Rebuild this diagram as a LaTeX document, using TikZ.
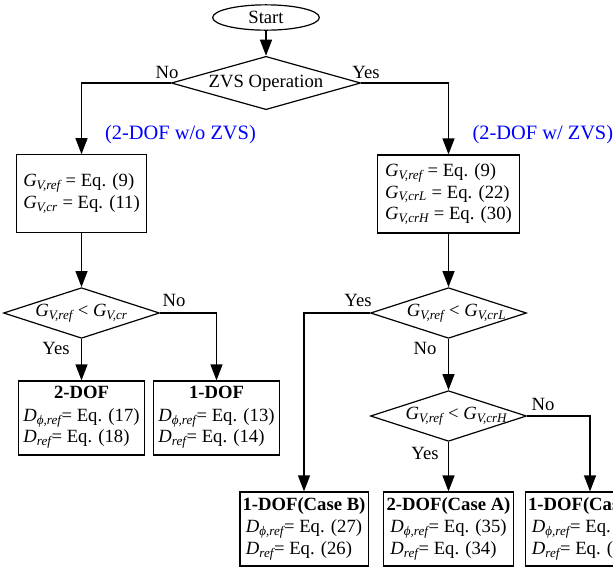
\documentclass[tikz,border=0pt]{standalone}
\usepackage{fontspec}
\setmainfont{Liberation Serif}
\usetikzlibrary{shapes.geometric,arrows.meta}
\newcommand{\sbx}[1]{\textsubscript{\itshape #1}}
\newcommand{\Gv}[1]{\textit{G}\sbx{V,#1}}
\newcommand{\Dv}[1]{\textit{D}\sbx{#1}}
\newcommand{\inz}[1]{\makebox[0pt]{#1}}

\begin{document}
\begin{tikzpicture}[x=0.75pt,y=-0.75pt,line width=0.9pt,font=\fontsize{14}{16}\selectfont,
    box/.style={draw,rectangle,inner sep=2pt},
    res/.style={box,align=center,minimum height=55.5pt},
    cond/.style={draw,diamond,aspect=3.08,inner sep=0pt,minimum width=117pt,minimum height=38pt},
    arr/.style={-{Triangle[width=9pt,length=12pt]}},
    lbl/.style={inner sep=1pt},
    note/.style={text=blue,inner sep=0pt,font=\fontsize{15.3}{18}\selectfont}]
        \useasboundingbox (0,0) rectangle (613,569);
        % top
        \node[draw,ellipse,minimum width=80pt,minimum height=19pt,inner sep=0pt] (start) at (266,17.5) {Start};
        \node[cond,aspect=3.55,minimum width=142pt,minimum height=40pt] (zvs) at (266,83) {\inz{ZVS Operation}};
        \node[lbl] (noZ) at (167,72) {No};
        \node[lbl] (yesZ) at (366,72) {Yes};
        \node[note] (woZ) at (180.5,135) {(2-DOF w/o ZVS)};
        \node[note,anchor=west] (wZ) at (472,135) {(2-DOF w/ ZVS)};
        % left branch
        \node[box,align=left,minimum width=98pt,minimum height=58pt] (parL) at (81.5,193.5)
            {\Gv{ref} = Eq. (9)\\\Gv{cr} = Eq. (11)};
        \node[cond] (decL) at (81.5,313) {\inz{\Gv{ref} < \Gv{cr}}};
        \node[lbl] (noL) at (174,300) {No};
        \node[lbl] (yesL) at (56,348) {Yes};
        \node[res,minimum width=94.5pt] (dofTwo) at (81.5,418)
            {\textbf{2-DOF}\\[1pt]\begin{tabular}[t]{@{}l@{}}\Dv{ϕ,ref}= Eq. (17)\\\Dv{ref}= Eq. (18)\end{tabular}};
        \node[res,minimum width=95pt] (dofOne) at (216.5,418)
            {\textbf{1-DOF}\\[1pt]\begin{tabular}[t]{@{}l@{}}\Dv{ϕ,ref}= Eq. (13)\\\Dv{ref}= Eq. (14)\end{tabular}};
        % right branch
        \node[box,align=left,minimum width=106.5pt,minimum height=58.5pt] (parR) at (448.5,194)
            {\Gv{ref} = Eq. (9)\\\Gv{crL} = Eq. (22)\\\Gv{crH} = Eq. (30)};
        \node[cond] (decRL) at (448.5,313) {\inz{\hspace{12pt}\Gv{ref} < \Gv{crL}}};
        \node[cond] (decRH) at (448.5,416) {\inz{\hspace{12pt}\Gv{ref} < \Gv{crH}}};
        \node[lbl] (yesRL) at (358,300) {Yes};
        \node[lbl] (noRL) at (425,348) {No};
        \node[lbl] (noRH) at (543,404) {No};
        \node[lbl] (yesRH) at (425,453) {Yes};
        \node[res,minimum width=96pt] (caseB) at (304,529)
            {\textbf{1-DOF(Case B)}\\[1pt]\begin{tabular}[t]{@{}l@{}}\Dv{ϕ,ref}= Eq. (27)\\\Dv{ref}= Eq. (26)\end{tabular}};
        \node[res,minimum width=97.5pt] (caseA) at (448.5,529)
            {\textbf{2-DOF(Case A)}\\[1pt]\begin{tabular}[t]{@{}l@{}}\Dv{ϕ,ref}= Eq. (35)\\\Dv{ref}= Eq. (34)\end{tabular}};
        \node[res,minimum width=93pt] (caseC) at (590,529)
            {\textbf{1-DOF(Case C)}\\[1pt]\begin{tabular}[t]{@{}l@{}}\Dv{ϕ,ref}= Eq. (29)\\\Dv{ref}= Eq. (28)\end{tabular}};
        % connectors
        \draw[arr] (start) -- (zvs);
        \draw[arr] (zvs.west) -| (parL.north);
        \draw[arr] (zvs.east) -| (parR.north);
        \draw[arr] (parL) -- (decL);
        \draw[arr] (decL) -- (dofTwo);
        \draw[arr] (decL.east) -| (dofOne.north);
        \draw[arr] (parR) -- (decRL);
        \draw[arr] (decRL.west) -| (caseB.north);
        \draw[arr] (decRL) -- (decRH);
        \draw[arr] (decRH) -- (caseA);
        \draw[arr] (decRH.east) -| (caseC.north);
    \end{tikzpicture}
\end{document}
